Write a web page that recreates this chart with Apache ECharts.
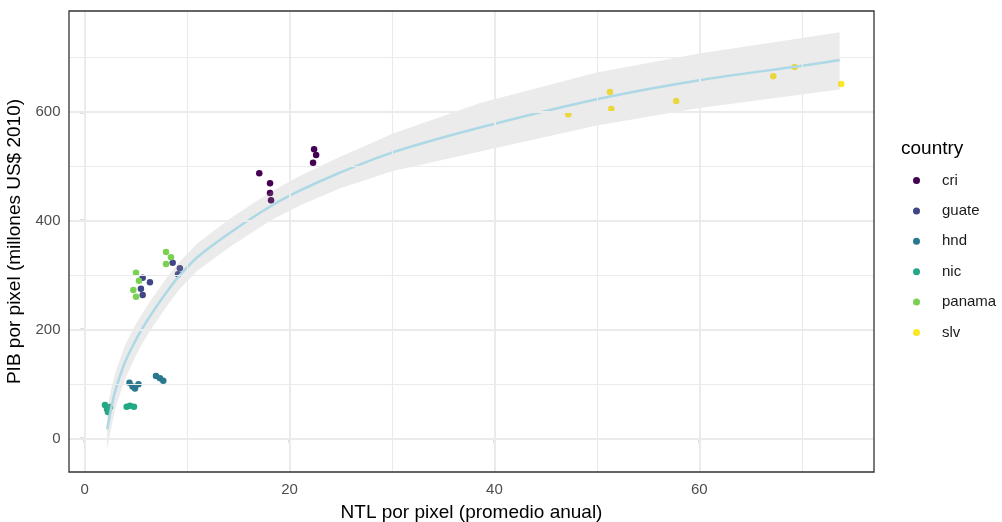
<!DOCTYPE html>
<html><head><meta charset="utf-8">
<script src="https://cdn.jsdelivr.net/npm/echarts@6/dist/echarts.min.js"></script>
<style>html,body{margin:0;padding:0;background:#fff}#c{width:1002px;height:522px}</style>
</head><body><div id="c"></div>
<script>
// ---- data ----
const countries = ['cri','guate','hnd','nic','panama','slv'];
const colors = ['#440154','#414487','#2A788E','#22A884','#7AD151','#FDE725'];
const cri    = [[17.05,487],[18.1,468.7],[18.1,451],[18.2,437.5],[22.4,531],[22.6,520.7],[22.3,506.5]];
const guate  = [[5.67,295.3],[6.38,286.8],[5.5,275],[5.67,263.5],[8.6,322.9],[9.3,312.6],[9.12,301.6]];
const hnd    = [[4.38,102.5],[4.68,95.5],[4.92,91.8],[5.26,99.5],[6.97,114.8],[7.36,110.6],[7.68,106.2]];
const nic    = [[1.99,61.5],[2.19,54.2],[2.48,57.9],[2.28,48.7],[4.11,58.5],[4.43,60],[4.82,58.5]];
const panama = [[5.02,304.5],[5.31,289.8],[4.76,272.7],[5.02,260.4],[7.95,342.5],[8.43,332.8],[7.95,320.5]];
const slv    = [[47.22,595.4],[51.28,636.4],[51.41,605.1],[57.74,619.8],[67.22,665.2],[69.3,682.3],[73.85,651]];
const pointSets = [cri, guate, hnd, nic, panama, slv];

// fitted curve and confidence band
const fitX   = [2.2, 2.65, 3.0, 3.94, 4.92, 5.41, 6.5, 8.05, 9.31, 11, 14.2, 18.2, 21, 24.9, 30, 38.6, 50, 60, 70.2, 73.7];
const fitY   = [17, 60, 88, 140, 178, 195, 228, 270, 300, 333, 378, 427, 455, 488, 525, 571, 623, 658, 685, 695];
const bandLo = [-21, 25, 55, 109, 149, 167, 201, 244, 275, 308, 352, 401, 428, 459, 491, 527, 575, 607, 632, 641];
const bandHi = [55, 95, 121, 171, 207, 223, 255, 296, 325, 358, 404, 453, 482, 517, 559, 616, 672, 707, 736, 746];

// axis breaks
const xMajor = [0, 20, 40, 60];
const xMinor = [10, 30, 50, 70];
const yMajor = [0, 200, 400, 600];
const yMinor = [100, 300, 500, 700];

// ---- chart ----
const FONT = 'Liberation Sans, Arial, sans-serif';
const chart = echarts.init(document.getElementById('c'), null, {renderer: 'canvas'});

const gridLines = [];
xMajor.forEach(v => gridLines.push({xAxis: v, lineStyle: {color: '#EBEBEB', width: 2, type: 'solid'}}));
xMinor.forEach(v => gridLines.push({xAxis: v, lineStyle: {color: '#EBEBEB', width: 1.1, type: 'solid'}}));
yMajor.forEach(v => gridLines.push({yAxis: v, lineStyle: {color: '#EBEBEB', width: 2, type: 'solid'}}));
yMinor.forEach(v => gridLines.push({yAxis: v, lineStyle: {color: '#EBEBEB', width: 1.1, type: 'solid'}}));

const series = [];
series.push({
  name: '_grid', type: 'line', data: [], z: 0, silent: true,
  markLine: {silent: true, symbol: 'none', label: {show: false}, animation: false, data: gridLines}
});
countries.forEach((c, i) => {
  series.push({
    name: c, type: 'scatter', data: pointSets[i], symbol: 'circle', symbolSize: 6.5, z: 2,
    itemStyle: {color: colors[i], opacity: 1}
  });
});
series.push({
  name: '_band', type: 'custom', z: 3, silent: true,
  data: fitX.map((x, i) => [x, bandLo[i], bandHi[i]]),
  encode: {x: 0, y: [1, 2]},
  renderItem: function (params, api) {
    if (params.dataIndex !== 0) return null;
    const top = fitX.map((x, i) => api.coord([x, bandHi[i]]));
    const bot = fitX.map((x, i) => api.coord([x, bandLo[i]])).reverse();
    return {type: 'polygon', shape: {points: top.concat(bot)}, style: {fill: 'rgba(153,153,153,0.2)', stroke: null}};
  }
});
series.push({
  name: '_fit', type: 'line', z: 4, symbol: 'none', silent: true, smooth: 0.3,
  lineStyle: {color: '#ADD8E6', width: 2.5}, data: fitX.map((x, i) => [x, fitY[i]])
});

chart.setOption({
  animation: false,
  backgroundColor: '#ffffff',
  textStyle: {fontFamily: FONT},
  title: {
    text: 'country', left: 901, top: 139, padding: 0,
    textStyle: {fontSize: 19, fontWeight: 'normal', color: '#000000', fontFamily: FONT}
  },
  legend: {
    orient: 'vertical', left: 913, top: 173, padding: 0,
    itemWidth: 7, itemHeight: 7, itemGap: 15.4,
    data: countries.map(c => ({name: c, icon: 'circle'})),
    textStyle: {fontSize: 15, color: '#1A1A1A', lineHeight: 15, padding: [0, 0, 0, 17], fontFamily: FONT}
  },
  grid: {left: 69, top: 11, width: 805, height: 461, show: true, borderColor: '#333333', borderWidth: 1.3, z: 10,
         backgroundColor: 'transparent', containLabel: false, outerBoundsMode: 'none'},
  xAxis: {
    type: 'value', min: -1.52, max: 77.05,
    name: 'NTL por pixel (promedio anual)', nameLocation: 'middle', nameGap: 31,
    nameTextStyle: {fontSize: 19, color: '#000000', fontFamily: FONT},
    axisLine: {show: false},
    axisTick: {show: true, inside: false, length: 4.75, customValues: xMajor, lineStyle: {color: '#333333', width: 1.3}},
    axisLabel: {show: true, margin: 10.5, customValues: xMajor, color: '#4D4D4D', fontSize: 15, fontFamily: FONT},
    splitLine: {show: false}
  },
  yAxis: {
    type: 'value', min: -61.5, max: 785.1,
    name: 'PIB por pixel (millones US$ 2010)', nameLocation: 'middle', nameGap: 35,
    nameTextStyle: {fontSize: 19, color: '#000000', fontFamily: FONT},
    axisLine: {show: false},
    axisTick: {show: true, inside: false, length: 4.75, customValues: yMajor, lineStyle: {color: '#333333', width: 1.3}},
    axisLabel: {show: true, margin: 8.5, customValues: yMajor, color: '#4D4D4D', fontSize: 15, fontFamily: FONT},
    splitLine: {show: false}
  },
  series: series
});
</script>
</body></html>
